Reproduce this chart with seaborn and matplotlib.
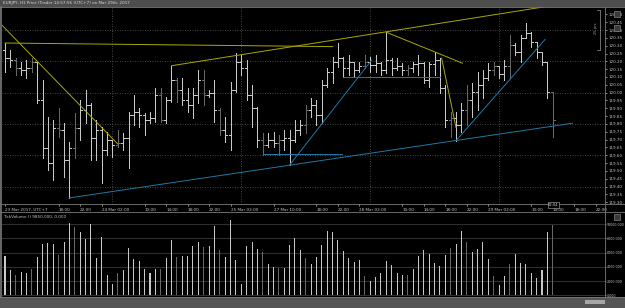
import numpy as np
import pandas as pd
import matplotlib
matplotlib.use("Agg")
import matplotlib.pyplot as plt
from matplotlib.lines import Line2D
from matplotlib.patches import Rectangle
import seaborn as sns

# EURJPY H1 bars, oldest first (23 Mar 08:00 -> 29 Mar 14:00, UTC+7)
opens = [120.273, 120.222, 120.209, 120.158, 120.145, 120.158, 120.196, 119.953, 119.647, 119.551,
         119.775, 119.762, 119.570, 119.647, 119.775, 119.890, 119.922, 119.711, 119.762, 119.634,
         119.698, 119.666, 119.679, 119.711, 119.858, 119.877, 119.858, 119.826, 119.839, 119.985,
         119.826, 119.953, 120.081, 120.017, 119.953, 119.922, 119.985, 120.081, 119.985, 119.998,
         119.890, 119.762, 119.730, 120.017, 120.196, 120.158, 119.985, 119.902, 119.698, 119.666,
         119.698, 119.679, 119.698, 119.711, 119.698, 119.762, 119.794, 119.890, 119.922, 119.858,
         120.049, 120.132, 120.196, 120.222, 120.158, 120.196, 120.145, 120.171, 120.196, 120.177,
         120.190, 120.145, 120.209, 120.158, 120.171, 120.145, 120.158, 120.183, 120.190, 120.081,
         120.183, 120.209, 120.030, 119.826, 119.839, 119.794, 119.890, 119.953, 120.005, 120.049,
         120.094, 120.145, 120.171, 120.119, 120.171, 120.305, 120.260, 120.349, 120.381, 120.324,
         120.260, 120.196, 120.005]
highs = [120.317, 120.273, 120.222, 120.196, 120.209, 120.222, 120.196, 120.081, 119.845, 119.826,
         119.902, 119.807, 119.685, 119.870, 119.953, 120.017, 119.934, 119.826, 119.781, 119.749,
         119.698, 119.762, 119.743, 119.877, 119.985, 119.902, 119.870, 119.877, 120.030, 120.030,
         119.973, 120.172, 120.094, 120.094, 120.030, 120.030, 120.145, 120.145, 120.017, 120.081,
         119.902, 119.845, 120.068, 120.254, 120.241, 120.209, 120.049, 119.909, 119.743, 119.743,
         119.749, 119.730, 119.762, 119.762, 119.826, 119.826, 119.922, 119.966, 119.953, 120.081,
         120.158, 120.228, 120.317, 120.228, 120.241, 120.196, 120.196, 120.241, 120.228, 120.241,
         120.196, 120.386, 120.222, 120.222, 120.190, 120.177, 120.196, 120.241, 120.196, 120.196,
         120.260, 120.222, 120.049, 119.877, 119.877, 119.934, 120.049, 120.062, 120.132, 120.145,
         120.190, 120.196, 120.171, 120.209, 120.369, 120.317, 120.369, 120.445, 120.388, 120.324,
         120.260, 120.196, 120.005]
lows = [120.132, 120.164, 120.113, 120.113, 120.094, 120.132, 119.934, 119.583, 119.506, 119.443,
        119.717, 119.462, 119.328, 119.583, 119.698, 119.807, 119.570, 119.570, 119.423, 119.602,
        119.589, 119.653, 119.634, 119.519, 119.794, 119.781, 119.730, 119.807, 119.813, 119.813,
        119.807, 119.941, 119.941, 119.922, 119.877, 119.839, 119.934, 119.922, 119.973, 119.813,
        119.730, 119.685, 119.634, 120.005, 120.113, 119.953, 119.781, 119.653, 119.602, 119.653,
        119.653, 119.602, 119.634, 119.538, 119.685, 119.730, 119.743, 119.845, 119.794, 119.807,
        120.036, 120.062, 120.164, 120.100, 120.113, 120.100, 120.132, 120.158, 120.132, 120.132,
        120.113, 120.126, 120.113, 120.145, 120.113, 120.113, 120.132, 120.113, 120.062, 120.036,
        120.113, 119.998, 119.781, 119.717, 119.694, 119.749, 119.794, 119.845, 119.890, 119.966,
        120.081, 120.113, 120.094, 120.081, 120.094, 120.241, 120.196, 120.349, 120.292, 120.222,
        120.177, 119.966, 119.717]
closes = [120.222, 120.209, 120.158, 120.145, 120.158, 120.196, 119.953, 119.647, 119.551, 119.775,
          119.762, 119.570, 119.647, 119.775, 119.890, 119.922, 119.711, 119.762, 119.634, 119.698,
          119.666, 119.679, 119.711, 119.858, 119.877, 119.858, 119.826, 119.839, 119.985, 119.826,
          119.953, 120.081, 120.017, 119.953, 119.922, 119.985, 120.081, 119.985, 119.998, 119.890,
          119.762, 119.730, 120.017, 120.196, 120.158, 119.985, 119.902, 119.698, 119.666, 119.698,
          119.679, 119.698, 119.711, 119.698, 119.762, 119.794, 119.890, 119.922, 119.858, 120.049,
          120.132, 120.196, 120.222, 120.158, 120.196, 120.145, 120.171, 120.196, 120.177, 120.190,
          120.145, 120.209, 120.158, 120.171, 120.145, 120.158, 120.183, 120.190, 120.081, 120.183,
          120.209, 120.030, 119.826, 119.839, 119.794, 119.890, 119.953, 120.005, 120.049, 120.094,
          120.145, 120.171, 120.119, 120.171, 120.305, 120.260, 120.349, 120.381, 120.324, 120.260,
          120.196, 120.005, 119.826]
volumes = [5540, 3570, 2860, 3290, 3150, 3710, 5450, 7230, 7370, 7230,
           5730, 7510, 10190, 9580, 8970, 7980, 10000, 5310, 8170, 2910,
           1600, 3100, 3570, 6710, 5120, 4840, 3760, 3150, 3760, 3760,
           5310, 7790, 5450, 5590, 5540, 7000, 7510, 6810, 6950, 9770,
           6430, 5350, 10610, 4980, 1600, 6950, 7560, 6570, 6100, 4410,
           3990, 3800, 3800, 7090, 8080, 6390, 5310, 4410, 5400, 7090,
           9060, 8920, 7790, 6200, 5310, 4700, 5020, 2770, 1970, 2630,
           3190, 4840, 4230, 3150, 2860, 2820, 3710, 5590, 6390, 5820,
           4550, 4130, 5680, 6710, 7230, 9060, 7560, 6100, 6530, 7470,
           5120, 2770, 1410, 2680, 4370, 5770, 4600, 4410, 3150, 2440,
           3570, 8970, 9910]
# bars drawn in the darker grey
dim_bars = [2, 5, 10, 13, 21, 29, 32, 37, 40, 48, 51, 56, 67, 75, 83, 86, 91, 94, 102]

time_ticks = [0, 10, 14, 18, 26, 30, 34, 38, 42, 50, 58, 62, 66, 74, 78, 82, 86, 90, 98, 102, 106, 110]
time_labels = ["23 Mar 2017, UTC+7", "18:00", "22:00", "24 Mar 02:00", "10:00", "14:00", "18:00",
               "22:00", "25 Mar 02:00", "27 Mar 10:00", "18:00", "22:00", "28 Mar 02:00", "10:00",
               "14:00", "18:00", "22:00", "29 Mar 02:00", "10:00", "14:00", "18:00", "22:00"]
day_starts = [20, 44, 68, 92]
price_grid = [119.40, 119.60, 119.80, 120.00, 120.20, 120.40]
price_labels = ["119.30", "119.35", "119.40", "119.45", "119.50", "119.55", "119.60", "119.65",
                "119.70", "119.75", "119.80", "119.85", "119.90", "119.95", "120.00", "120.05",
                "120.10", "120.15", "120.20", "120.25", "120.30", "120.35", "120.40", "120.45", "120.50"]
vol_ticks = [0, 2000, 4000, 6000, 8000, 10000]

# trend lines: (bar, price) -> (bar, price)
yellow_lines = [(-0.6, 120.432, 21, 119.672),
                (0, 120.317, 61.1, 120.294),
                (31, 120.172, 100.6, 120.549),
                (71, 120.386, 85.2, 120.188),
                (81.3, 120.222, 84.0, 119.775)]
blue_lines = [(12, 119.328, 105.7, 119.805),
              (48.1, 119.607, 62.7, 119.607),
              (63, 120.102, 81, 120.102),
              (53, 119.538, 68.3, 120.209),
              (84, 119.694, 100.6, 120.341)]

BG = "#000000"
TXT = "#c4c4c4"
FRAME = "#7a7a7a"
palette = {"bright": "#c8c8c8", "dim": "#686868"}
FS = 3.0

sns.set_theme(style="dark", rc={"axes.facecolor": BG, "figure.facecolor": BG,
                                "axes.edgecolor": BG, "text.color": TXT})
plt.rcParams["font.family"] = ["DejaVu Sans"]

df = pd.DataFrame({"bar": np.arange(len(opens)), "open": opens, "high": highs,
                   "low": lows, "close": closes, "volume": volumes})
df["tone"] = np.where(df["bar"].isin(dim_bars), "dim", "bright")

W, H = 625, 308
fig = plt.figure(figsize=(W / 100, H / 100), dpi=100)


def box(x0, y0, x1, y1):
    return [x0 / W, 1 - y1 / H, (x1 - x0) / W, (y1 - y0) / H]


ax = fig.add_axes(box(2, 7, 605, 204))
axv = fig.add_axes(box(2, 213, 605, 296))
XL = (-0.56, 111.73)

# --- price panel
for y in price_grid:
    ax.axhline(y, color="#5c5c5c", lw=0.6, ls=(0, (1, 2)), zorder=0)
for x in day_starts:
    ax.axvline(x, color="#5c5c5c", lw=0.6, ls=(0, (1, 2)), zorder=0)

for tone, g in df.groupby("tone"):
    c = palette[tone]
    ax.vlines(g["bar"], g["low"], g["high"], color=c, lw=0.5, antialiased=False)
    ax.hlines(g["open"], g["bar"] - 0.38, g["bar"], color=c, lw=0.5, antialiased=False)
    ax.hlines(g["close"], g["bar"], g["bar"] + 0.38, color=c, lw=0.5, antialiased=False)

for x0, y0, x1, y1 in yellow_lines:
    ax.plot([x0, x1], [y0, y1], color="#a9a900", lw=0.7)
for x0, y0, x1, y1 in blue_lines:
    ax.plot([x0, x1], [y0, y1], color="#1d7aa6", lw=0.7)

ax.set_xlim(*XL)
ax.set_ylim(119.289, 120.547)
ax.yaxis.tick_right()
ax.set_yticks([float(s) for s in price_labels])
ax.set_yticklabels(price_labels)
ax.set_xticks(time_ticks)
ax.set_xticklabels(time_labels)
for lab in ax.get_xticklabels():
    lab.set_horizontalalignment("left")
ax.tick_params(axis="y", labelsize=FS, colors=TXT, length=1.5, width=0.5, pad=1)
ax.tick_params(axis="x", labelsize=FS, colors=TXT, length=1.5, width=0.5, pad=1.2)
ax.tick_params(axis="x", which="both", bottom=True)
ax.tick_params(axis="y", which="both", right=True, left=False)
ax.set_xlabel("")
ax.set_ylabel("")
for s in ax.spines.values():
    s.set_visible(False)

# --- volume panel
for v in vol_ticks:
    axv.axhline(v, color="#2e2e2e", lw=0.8, zorder=0)
sns.barplot(data=df, x="bar", y="volume", hue="tone", palette=palette, native_scale=True,
            width=0.19, dodge=False, legend=False, saturation=1, errorbar=None,
            linewidth=0, ax=axv)
axv.set_xlim(*XL)
axv.set_ylim(-99, 11590)
axv.yaxis.tick_right()
axv.set_yticks(vol_ticks)
axv.set_yticklabels([f"{v:.3f}" for v in vol_ticks])
axv.set_xticks([])
axv.tick_params(axis="y", labelsize=2.35, colors=TXT, length=0.8, width=0.5, pad=0.3,
                right=True, left=False)
axv.set_xlabel("")
axv.set_ylabel("")
for s in axv.spines.values():
    s.set_visible(False)

# --- terminal frame, title strip, scrollbar
fig.add_artist(Rectangle((0, 1 - 6.5 / H), 1, 6.5 / H, transform=fig.transFigure,
                         facecolor="#4e4e4e", edgecolor="none"))
fig.text(3 / W, 1 - 3.3 / H, "EURJPY, H1 Price (Trader 14:57:56 (UTC+7) on Mar 29th, 2017",
         fontsize=FS, color="#d6d6d6", va="center", ha="left")
fig.add_artist(Rectangle((0, 0), 1, 11.5 / H, transform=fig.transFigure,
                         facecolor="#555555", edgecolor="none"))
fig.add_artist(Rectangle((585 / W, 4.5 / H), 20 / W, 3.5 / H, transform=fig.transFigure,
                         facecolor="#a6a6a6", edgecolor="none"))
for y in (6.8, 204.2, 211.8, 296.5):
    fig.add_artist(Line2D([0, 1], [1 - y / H, 1 - y / H], transform=fig.transFigure,
                          color=FRAME, lw=0.6))
fig.add_artist(Line2D([1.2 / W, 1.2 / W], [11.5 / H, 1 - 6.5 / H], transform=fig.transFigure,
                      color=FRAME, lw=1.2))
fig.add_artist(Line2D([605 / W, 605 / W], [11.5 / H, 1 - 6.5 / H], transform=fig.transFigure,
                      color=FRAME, lw=0.6))

fig.text(3 / W, 1 - 216.5 / H, "TickVolume () 9850.000, 0.000", fontsize=FS, color=TXT,
         va="center", ha="left")

# measuring bracket and small buttons on the price scale
fig.add_artist(Line2D([597 / W, 599.5 / W, 599.5 / W, 597 / W],
                      [1 - 10 / H, 1 - 10 / H, 1 - 50 / H, 1 - 50 / H],
                      transform=fig.transFigure, color="#9a9a9a", lw=0.5))
fig.text(595.5 / W, 1 - 28 / H, "25 pts", fontsize=2.6, color="#9a9a9a", rotation=90,
         va="center", ha="center")
for y0 in (11, 25, 214):
    fig.add_artist(Rectangle((614 / W, 1 - (y0 + 6) / H), 6 / W, 6 / H, transform=fig.transFigure,
                             facecolor="#3a3a3a", edgecolor="#9a9a9a", lw=0.4))
fig.text(553.5 / W, 1 - 205 / H, "02:04", fontsize=2.6, color="#d0d0d0", va="center",
         ha="center", bbox=dict(boxstyle="square,pad=0.15", fc="#000000", ec="#b0b0b0", lw=0.4))

fig.savefig("out.png", dpi=100, facecolor=BG)
